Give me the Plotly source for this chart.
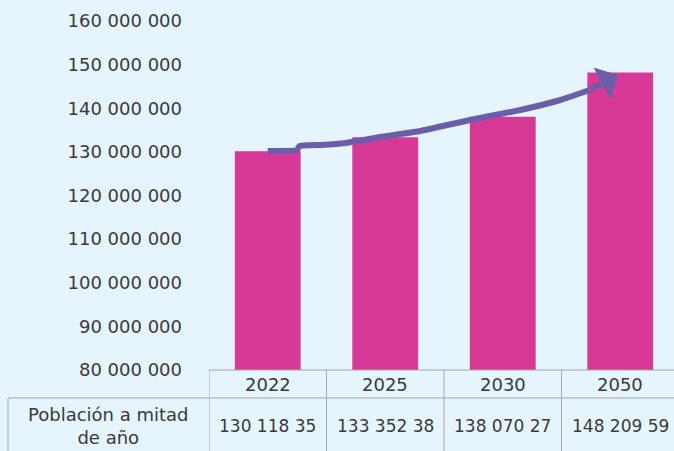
import plotly.graph_objects as go

# ---- data ----
years = ["2022", "2025", "2030", "2050"]
population = [130118356, 133352384, 138070271, 148209594]
value_labels = ["130 118 35", "133 352 38", "138 070 27", "148 209 59"]
row_header = "Población a mitad<br>de año"
# hand-drawn trend arrow (category position, value)
trend_x = [0.0, 0.25, 0.27, 0.45, 0.66, 0.96, 1.30, 1.72, 2.15, 2.49, 2.74, 2.98]
trend_y = [130200000, 130430000, 131350000, 131580000, 132030000, 133410000,
           134790000, 137310000, 139600000, 141890000, 144180000, 147620000]
y_ticks = [80000000, 90000000, 100000000, 110000000, 120000000,
           130000000, 140000000, 150000000, 160000000]

BG = "#E6F4FD"
BAR = "#D63A96"
ARROW = "#6B5EA8"
TXT = "#3A3A3A"
GRID = "#A6A6A6"
FONT = "DejaVu Sans"

W, H = 674, 451
ML, MR, MT, MB = 209, 0, 21, 81
PW, PH = W - ML - MR, H - MT - MB

def px_x(px):
    return (px - ML) / PW

def px_y(py):
    return (H - MB - py) / PH

xi = list(range(len(years)))

fig = go.Figure()
fig.add_trace(go.Bar(x=xi, y=population, width=0.56, marker=dict(color=BAR, line=dict(width=0)),
                     hoverinfo="skip"))
fig.add_trace(go.Scatter(x=trend_x[:-1], y=trend_y[:-1], mode="lines",
                         line=dict(color=ARROW, width=6, shape="spline", smoothing=0.3),
                         hoverinfo="skip"))

shapes = []
line_style = dict(color=GRID, width=1)
for i in range(len(years) + 1):
    shapes.append(dict(type="line", xref="x", yref="paper", x0=i - 0.5, x1=i - 0.5,
                       y0=0, y1=px_y(H + 2), line=line_style))
shapes.append(dict(type="line", xref="paper", yref="paper", x0=0, x1=1.02,
                   y0=0, y1=0, line=line_style))
shapes.append(dict(type="line", xref="paper", yref="paper", x0=px_x(8), x1=1.02,
                   y0=px_y(398), y1=px_y(398), line=line_style))
shapes.append(dict(type="line", xref="paper", yref="paper", x0=px_x(8), x1=px_x(8),
                   y0=px_y(398), y1=px_y(H + 2), line=line_style))

annotations = []
# arrowhead at the end of the trend line
annotations.append(dict(x=trend_x[-1], y=trend_y[-1], xref="x", yref="y",
                        ax=trend_x[-2], ay=trend_y[-2], axref="x", ayref="y",
                        text="", showarrow=True, arrowhead=1, arrowsize=1.0,
                        arrowwidth=6, arrowcolor=ARROW, standoff=0, startstandoff=0))
for i, (yr, lab) in enumerate(zip(years, value_labels)):
    annotations.append(dict(x=i, y=px_y(384), xref="x", yref="paper", text=yr,
                            showarrow=False, font=dict(size=18, color=TXT, family=FONT),
                            xanchor="center", yanchor="middle"))
    annotations.append(dict(x=i, y=px_y(426), xref="x", yref="paper", text=lab,
                            showarrow=False, font=dict(size=17, color=TXT, family=FONT),
                            xanchor="center", yanchor="middle"))
annotations.append(dict(x=px_x(108), y=px_y(426), xref="paper", yref="paper", text=row_header,
                        showarrow=False, font=dict(size=18, color=TXT, family=FONT),
                        xanchor="center", yanchor="middle", align="center"))

fig.update_layout(
    width=W, height=H,
    margin=dict(l=ML, r=MR, t=MT, b=MB, pad=0),
    paper_bgcolor=BG, plot_bgcolor=BG,
    showlegend=False,
    separators=". ",
    font=dict(family=FONT, color=TXT, size=18),
    xaxis=dict(range=[-0.5, -0.5 + PW / 117.5], showticklabels=False, showgrid=False,
               zeroline=False, showline=False, ticks="", fixedrange=True),
    yaxis=dict(range=[80000000, 160000000], tickvals=y_ticks, tickformat=",d",
               showgrid=False, zeroline=False, showline=False, ticks="",
               ticklabelstandoff=26, tickfont=dict(size=18, color=TXT, family=FONT),
               fixedrange=True),
    shapes=shapes,
    annotations=annotations,
    bargap=0.44,
)

fig.write_html(
    "out.html",
    config={"displayModeBar": False, "staticPlot": True},
    post_script="document.body.style.margin='0';document.body.style.overflow='hidden';"
                "document.body.style.background='" + BG + "';",
)
